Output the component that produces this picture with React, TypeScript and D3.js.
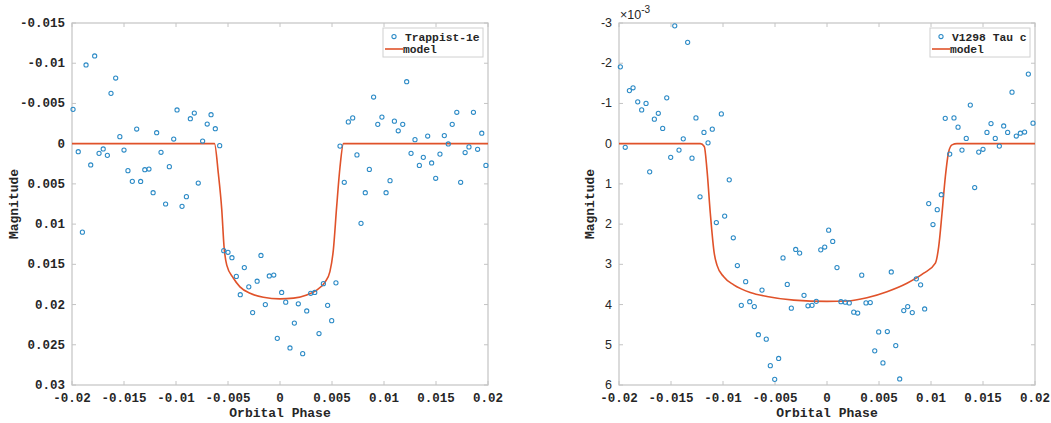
import React from "react";
import * as d3 from "d3";

// ---------- Data: Trappist-1e ----------
const trappistPhase = [
  -0.0199, -0.0194, -0.019, -0.01865, -0.0182, -0.01782, -0.0174, -0.017, -0.0166, -0.01625,
  -0.0158, -0.0154, -0.015, -0.01462, -0.0142, -0.01378, -0.0134, -0.013, -0.0126, -0.0122,
  -0.01186, -0.01144, -0.011, -0.01064, -0.01022, -0.0099, -0.00942, -0.009, -0.00862, -0.00824,
  -0.00786, -0.00744, -0.007, -0.00663, -0.00622, -0.0058, -0.00541, -0.005, -0.00462, -0.0042,
  -0.00382, -0.00343, -0.003, -0.00263, -0.0022, -0.00183, -0.00141, -0.00103, -0.0006, -0.00026,
  0.00016, 0.00055, 0.00096, 0.00138, 0.00176, 0.00218, 0.00257, 0.00295, 0.00334, 0.00375,
  0.00417, 0.00458, 0.00497, 0.00538, 0.00577, 0.00618, 0.00657, 0.00699, 0.0074, 0.00779,
  0.0082, 0.00859, 0.009, 0.0094, 0.0098, 0.0102, 0.01058, 0.011, 0.01137, 0.0118,
  0.01218, 0.0126, 0.01298, 0.0134, 0.01378, 0.0142, 0.01458, 0.01497, 0.01538, 0.0158,
  0.01618, 0.01656, 0.017, 0.01737, 0.0178, 0.01817, 0.0186, 0.019, 0.0194, 0.0198,
];
const trappistMag = [
  -0.00427, 0.001, 0.011, -0.00978, 0.00265, -0.0109, 0.0012, 0.00066, 0.00145, -0.00626,
  -0.00816, -0.00087, 0.00079, 0.00336, 0.00468, -0.00182, 0.0047, 0.00324, 0.00315, 0.0061,
  -0.00136, 0.00107, 0.0075, 0.00286, -0.00058, -0.00419, 0.00779, 0.00659, -0.0031, -0.00381,
  0.00489, -0.00033, -0.00244, -0.0036, -0.00186, 0.00025, 0.0133, 0.0135, 0.01418, 0.0165,
  0.01878, 0.0154, 0.0178, 0.021, 0.0171, 0.0139, 0.02, 0.01645, 0.01633, 0.0242,
  0.0185, 0.0197, 0.0254, 0.0223, 0.0199, 0.0261, 0.0208, 0.0186, 0.0185, 0.0236,
  0.0174, 0.0201, 0.022, 0.0173, 0.0003, 0.0048, -0.0027, -0.0032, 0.0014, 0.0099,
  0.0061, 0.0032, -0.0058, -0.0024, -0.0033, 0.0061, 0.0046, -0.0028, -0.0016, -0.0024,
  -0.0077, 0.0012, -0.0005, 0.0027, 0.0017, -0.00095, 0.0024, 0.0043, 0.0013, -0.001,
  0.00004, -0.0024, -0.0039, 0.0048, 0.0011, 0.0004, -0.0039, 0.0007, -0.0013, 0.0027,
];
const trappistModelPhase = [
  -0.02, -0.0063, -0.00593, -0.0056, -0.00538, -0.00512, -0.00449, -0.00385, -0.00288, -0.0016,
  0, 0.0013, 0.00257, 0.00353, 0.00433, 0.0048, 0.00513, 0.00545, 0.00577, 0.0061, 0.02,
];
const trappistModelMag = [
  0, 0, 0.0037, 0.0082, 0.0128, 0.0151, 0.0167, 0.0178, 0.0186, 0.0191,
  0.0193, 0.0192, 0.0188, 0.0182, 0.0172, 0.0159, 0.0132, 0.0078, 0.0029, 0, 0,
];

// ---------- Data: V1298 Tau c (magnitude in units of 10^-3) ----------
const tauPhase = [
  -0.01987, -0.0194, -0.019, -0.01865, -0.0182, -0.01782, -0.0174, -0.01705, -0.0166, -0.01622,
  -0.0158, -0.01541, -0.01503, -0.01464, -0.01423, -0.01382, -0.0134, -0.01298, -0.0126, -0.01221,
  -0.01183, -0.01144, -0.01103, -0.01064, -0.01016, -0.00984, -0.0094, -0.00901, -0.00862, -0.00824,
  -0.00782, -0.00743, -0.00699, -0.0066, -0.00625, -0.00584, -0.00545, -0.00503, -0.00465, -0.00423,
  -0.00382, -0.00343, -0.00301, -0.00263, -0.00221, -0.00183, -0.00144, -0.00103, -0.0006, -0.00022,
  0.00016, 0.00055, 0.00096, 0.00134, 0.00176, 0.00214, 0.00257, 0.00295, 0.00334, 0.00375,
  0.00416, 0.00459, 0.00497, 0.00538, 0.0058, 0.00618, 0.00661, 0.00699, 0.00738, 0.00776,
  0.0082, 0.00859, 0.009, 0.00939, 0.00978, 0.01019, 0.0106, 0.01099, 0.01137, 0.0118,
  0.01221, 0.0126, 0.01298, 0.01339, 0.01378, 0.0142, 0.01459, 0.015, 0.01538, 0.01577,
  0.01618, 0.01657, 0.01699, 0.01737, 0.01779, 0.0182, 0.01859, 0.019, 0.01936, 0.01981,
];
const tauMag = [
  -1.91, 0.09, -1.32, -1.39, -1.04, -0.84, -1.0, 0.7, -0.61, -0.755,
  -0.38, -1.14, 0.34, -2.93, 0.16, -0.12, -2.52, 0.36, -0.64, 1.32,
  -0.28, -0.02, -0.36, 1.96, -0.74, 1.8, 0.9, 2.34, 3.03, 4.02,
  3.43, 3.93, 4.05, 4.75, 3.64, 4.86, 5.52, 5.86, 5.34, 2.84,
  3.5, 4.09, 2.63, 2.72, 3.77, 4.03, 4.02, 3.92, 2.64, 2.57,
  2.15, 2.43, 3.08, 3.93, 3.94, 3.96, 4.19, 4.21, 3.27, 3.96,
  3.95, 5.15, 4.68, 5.45, 4.67, 3.19, 5.02, 5.85, 4.15, 4.05,
  4.2, 3.36, 3.51, 4.11, 1.49, 2.01, 1.64, 1.27, -0.63, 0.26,
  -0.64, -0.41, 0.16, -0.13, -0.96, 1.09, 0.21, 0.14, -0.28, -0.5,
  -0.13, 0.06, -0.44, -0.28, -1.28, -0.19, -0.26, -0.29, -1.73, -0.51,
];
const tauModelPhase = [
  -0.02, -0.01218, -0.0118, -0.01154, -0.01122, -0.01084, -0.01058, -0.00993, -0.00897, -0.00738,
  -0.00577, -0.0032, 0, 0.00192, 0.00384, 0.00577, 0.00769, 0.0093, 0.01042, 0.01074,
  0.01106, 0.01138, 0.0117, 0.01202, 0.0125, 0.02,
];
const tauModelMag = [
  0, 0, 0.07, 0.65, 1.73, 2.73, 3.02, 3.31, 3.51, 3.7,
  3.8, 3.89, 3.92, 3.91, 3.83, 3.68, 3.47, 3.22, 2.97, 2.56,
  1.73, 0.82, 0.2, 0.03, 0, 0,
];

// ---------- Ticks ----------
const phaseTicks = [-0.02, -0.015, -0.01, -0.005, 0, 0.005, 0.01, 0.015, 0.02];
const phaseTickLabels = ["-0.02", "-0.015", "-0.01", "-0.005", "0", "0.005", "0.01", "0.015", "0.02"];
const trappistYTicks = [-0.015, -0.01, -0.005, 0, 0.005, 0.01, 0.015, 0.02, 0.025, 0.03];
const trappistYTickLabels = ["-0.015", "-0.01", "-0.005", "0", "0.005", "0.01", "0.015", "0.02", "0.025", "0.03"];
const tauYTicks = [-3, -2, -1, 0, 1, 2, 3, 4, 5, 6];
const tauYTickLabels = ["-3", "-2", "-1", "0", "1", "2", "3", "4", "5", "6"];

const MONO = "'Liberation Mono', 'DejaVu Sans Mono', monospace";
const SANS = "'Liberation Sans', Arial, sans-serif";
const TEXT = "#262626";
const AXIS = "#c4c4c4";
const MARKER = "#2b8ac6";
const LINE = "#e0522a";

type PanelProps = {
  left: number;
  right: number;
  top: number;
  bottom: number;
  xs: number[];
  ys: number[];
  mx: number[];
  my: number[];
  yDomain: [number, number];
  yTicks: number[];
  yTickLabels: string[];
  yTickFont: string;
  yTickWeight: string | number;
  legendLabel: string;
  labelX: number;
  exponent?: boolean;
};

function Panel(p: PanelProps) {
  const x = d3.scaleLinear().domain([-0.02, 0.02]).range([p.left, p.right]);
  const y = d3.scaleLinear().domain(p.yDomain).range([p.top, p.bottom]);
  const pts = p.mx.map((v, i) => [v, p.my[i]] as [number, number]);
  const line = d3
    .line<[number, number]>()
    .x((d) => x(d[0]))
    .y((d) => y(d[1]))
    .curve(d3.curveMonotoneX);
  const tl = 4;
  const cx = (p.left + p.right) / 2;
  const cy = (p.top + p.bottom) / 2;
  const lgR = p.right - 5;
  const lgL = lgR - 100;
  return (
    <g>
      <rect x={p.left} y={p.top} width={p.right - p.left} height={p.bottom - p.top} fill="#fff" stroke={AXIS} strokeWidth={1.2} />
      {phaseTicks.map((t, i) => (
        <g key={"xt" + i}>
          <line x1={x(t)} x2={x(t)} y1={p.bottom} y2={p.bottom - tl} stroke={AXIS} />
          <line x1={x(t)} x2={x(t)} y1={p.top} y2={p.top + tl} stroke={AXIS} />
          <text x={x(t)} y={p.bottom + 17} textAnchor="middle" fontFamily={MONO} fontWeight="bold" fontSize={12.5} fill={TEXT}>
            {phaseTickLabels[i]}
          </text>
        </g>
      ))}
      {p.yTicks.map((t, i) => (
        <g key={"yt" + i}>
          <line x1={p.left} x2={p.left + tl} y1={y(t)} y2={y(t)} stroke={AXIS} />
          <line x1={p.right} x2={p.right - tl} y1={y(t)} y2={y(t)} stroke={AXIS} />
          <text x={p.left - 7} y={y(t) + 4} textAnchor="end" fontFamily={p.yTickFont} fontWeight={p.yTickWeight} fontSize={12.5} fill={TEXT}>
            {p.yTickLabels[i]}
          </text>
        </g>
      ))}
      {p.exponent && (
        <text x={p.left + 1} y={p.top - 4} fontFamily={SANS} fontSize={12.5} fill={TEXT}>
          ×10
          <tspan dy={-6} fontSize={10}>-3</tspan>
        </text>
      )}
      <path d={line(pts) ?? ""} fill="none" stroke={LINE} strokeWidth={1.6} />
      {p.xs.map((v, i) => (
        <circle key={"pt" + i} cx={x(v)} cy={y(p.ys[i])} r={2.1} fill="none" stroke={MARKER} strokeWidth={1.05} />
      ))}
      <rect x={lgL} y={p.top + 5} width={100} height={29} fill="#fff" stroke="#d0d0d0" strokeWidth={1} />
      <circle cx={lgL + 11} cy={p.top + 13.5} r={2.1} fill="none" stroke={MARKER} strokeWidth={1.05} />
      <text x={lgL + 22} y={p.top + 17.5} fontFamily={MONO} fontWeight="bold" fontSize={11.3} fill={TEXT}>
        {p.legendLabel}
      </text>
      <line x1={lgL + 2} x2={lgL + 20} y1={p.top + 26} y2={p.top + 26} stroke={LINE} strokeWidth={1.6} />
      <text x={lgL + 20} y={p.top + 30} fontFamily={MONO} fontWeight="bold" fontSize={11.3} fill={TEXT}>
        model
      </text>
      <text x={cx} y={p.bottom + 32} textAnchor="middle" fontFamily={MONO} fontWeight="bold" fontSize={13} fill={TEXT}>
        Orbital Phase
      </text>
      <text
        transform={`translate(${p.labelX},${cy}) rotate(-90)`}
        textAnchor="middle"
        fontFamily={MONO}
        fontWeight="bold"
        fontSize={13}
        fill={TEXT}
      >
        Magnitude
      </text>
    </g>
  );
}

export default function App() {
  return (
    <svg width={1051} height={423} style={{ position: "absolute", left: 0, top: 0, background: "#fff" }}>
      <rect width={1051} height={423} fill="#fff" />
      <Panel
        left={72}
        right={488}
        top={23}
        bottom={385}
        xs={trappistPhase}
        ys={trappistMag}
        mx={trappistModelPhase}
        my={trappistModelMag}
        yDomain={[-0.015, 0.03]}
        yTicks={trappistYTicks}
        yTickLabels={trappistYTickLabels}
        yTickFont={MONO}
        yTickWeight="bold"
        legendLabel="Trappist-1e"
        labelX={18}
      />
      <Panel
        left={619}
        right={1035}
        top={23}
        bottom={385}
        xs={tauPhase}
        ys={tauMag}
        mx={tauModelPhase}
        my={tauModelMag}
        yDomain={[-3, 6]}
        yTicks={tauYTicks}
        yTickLabels={tauYTickLabels}
        yTickFont={SANS}
        yTickWeight="normal"
        legendLabel="V1298 Tau c"
        labelX={594}
        exponent
      />
    </svg>
  );
}
